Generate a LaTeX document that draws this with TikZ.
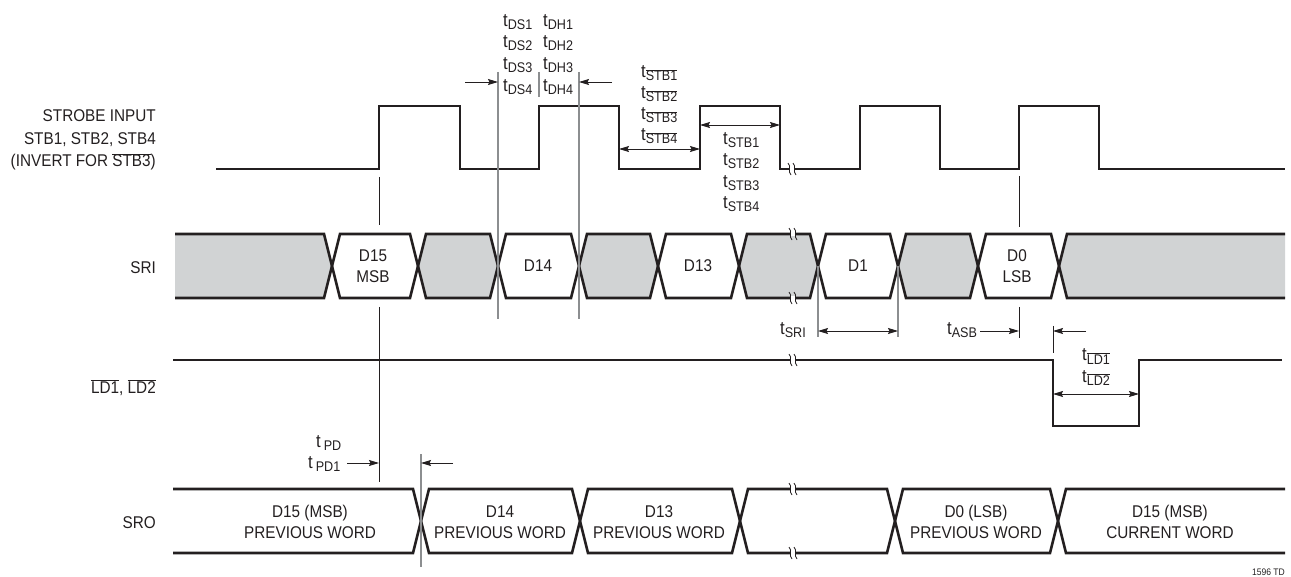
\documentclass[tikz,border=0pt]{standalone}
\usepackage{fontspec}
\setmainfont[FakeStretch=0.9]{Liberation Sans}
\usetikzlibrary{arrows.meta, positioning}
\definecolor{ink}{HTML}{231F20}
\definecolor{busgray}{HTML}{D1D3D4}
\definecolor{refgray}{HTML}{8C8E90}
\newcommand{\tsub}[1]{{\fontsize{18.5}{21}\selectfont t}\raisebox{-3pt}{\fontsize{14}{15}\selectfont #1}}
\newcommand{\ovl}[1]{$\overline{\hbox{#1}}$}

\begin{document}
\begin{tikzpicture}[x=1pt, y=-1pt, font=\fontsize{17}{21}\selectfont, text=ink,
    wave/.style = {draw=ink, line width=2.6pt},
    refline/.style = {draw=ink, line width=0.9pt},
    gline/.style = {draw=refgray, line width=1.1pt},
    dim/.style = {draw=ink, line width=0.9pt, -{Stealth[length=10pt,width=6pt,inset=1.5pt]}},
    ddim/.style = {draw=ink, line width=0.9pt, {Stealth[length=10pt,width=6pt,inset=1.5pt]}-{Stealth[length=10pt,width=6pt,inset=1.5pt]}},
    lbl/.style = {anchor=base east, inner sep=0pt},
    tl/.style = {anchor=base west, inner sep=0pt},
    busl/.style = {align=center, inner sep=0pt},
    breakmark/.pic = {
      \fill[white] (-3,-1.6) rectangle (3,1.6);
      \foreach \d in {-2.5,2.5}
        \draw[ink, line width=0.8pt] (\d-1.5,-6) .. controls (\d+2.5,-2) and (\d-2.5,2) .. (\d+1.5,6);
    }]
\useasboundingbox (0,0) rectangle (1291,577);

% signal names
\node[lbl] (strobe1) at (156,122) {STROBE INPUT};
\node[lbl] (strobe2) at (156,145) {STB1, STB2, STB4};
\node[lbl] (strobe3) at (156,167) {(INVERT FOR \ovl{STB3})};
\node[lbl] (sri) at (156,274) {SRI};
\node[lbl] (ld) at (156,393) {\ovl{LD1}, \ovl{LD2}};
\node[lbl] (sro) at (156,528) {SRO};

% strobe
\draw[wave] (216,169) \foreach \r/\f in {379/460, 539/619, 700/780, 860/940, 1019/1099}
  { -- (\r,169) -- (\r,106) -- (\f,106) -- (\f,169) } -- (1285,169);
\pic at (792,169) {breakmark};

% SRI bus
\fill[busgray] (175,234) -- (324,234) -- (332,266) -- (324,298) -- (175,298) -- cycle;
\fill[busgray] (1285,234) -- (1067,234) -- (1059,266) -- (1067,298) -- (1285,298) -- cycle;
\foreach \a/\b in {418/498, 579/658, 739/818, 898/978}
  \fill[busgray] (\a,266) -- (\a+8,234) -- (\b-8,234) -- (\b,266) -- (\b-8,298) -- (\a+8,298) -- cycle;
\draw[wave] (175,234) -- (324,234) -- (332,266) -- (324,298) -- (175,298);
\draw[wave] (1285,234) -- (1067,234) -- (1059,266) -- (1067,298) -- (1285,298);
\foreach \a/\b in {332/418, 418/498, 498/579, 579/658, 658/739, 739/818, 818/898, 898/978, 978/1059}
  \draw[wave] (\a,266) -- (\a+8,234) -- (\b-8,234) -- (\b,266) -- (\b-8,298) -- (\a+8,298) -- cycle;
\pic at (793,234) {breakmark};
\pic at (793,298) {breakmark};

\node[busl] (d15) at (373,266) {D15\\MSB};
\node[busl] (d14) at (538,266) {D14};
\node[busl] (d13) at (698,266) {D13};
\node[busl] (d1) at (858,266) {D1};
\node[busl] (d0) at (1017,266) {D0\\LSB};

% LD
\draw[wave] (173,360) -- (1053,360) -- (1053,426) -- (1139,426) -- (1139,360) -- (1282,360);
\pic at (793,360) {breakmark};

% SRO bus
\draw[wave] (173,489) -- (413,489) -- (421,521) -- (413,553) -- (173,553);
\draw[wave] (1285,489) -- (1066,489) -- (1058,521) -- (1066,553) -- (1285,553);
\foreach \a/\b in {421/580, 580/740, 740/895, 895/1058}
  \draw[wave] (\a,521) -- (\a+8,489) -- (\b-8,489) -- (\b,521) -- (\b-8,553) -- (\a+8,553) -- cycle;
\pic at (793,489) {breakmark};
\pic at (793,553) {breakmark};

\node[busl] (o15) at (310,522) {D15 (MSB)\\PREVIOUS WORD};
\node[busl] (o14) at (500,522) {D14\\PREVIOUS WORD};
\node[busl] (o13) at (659,522) {D13\\PREVIOUS WORD};
\node[busl] (o0) at (976,522) {D0 (LSB)\\PREVIOUS WORD};
\node[busl] (onew) at (1170,522) {D15 (MSB)\\CURRENT WORD};

% reference lines
\draw[refline] (379,177) -- (379,225) (379,307) -- (379,482);
\draw[refline] (1019,176) -- (1019,227) (1019,307) -- (1019,338);
\draw[refline] (1053,326) -- (1053,353);
\draw[gline] (498,72) -- (498,319) (579,72) -- (579,319) (539,72) -- (539,97);
\draw[gline] (818,266) -- (818,337) (898,266) -- (898,337);
\draw[gline] (421,454) -- (421,567);

% timing arrows
\draw[dim] (465,82) -- (498,82);
\draw[dim] (612,82) -- (579,82);
\draw[ddim] (619,149) -- (700,149);
\draw[ddim] (700,125) -- (780,125);
\draw[ddim] (818,331) -- (898,331);
\draw[dim] (980,331) -- (1019,331);
\draw[dim] (1086,331) -- (1053,331);
\draw[ddim] (1053,394) -- (1139,394);
\draw[dim] (347,463) -- (379,463);
\draw[dim] (453,463) -- (421,463);

% timing labels
\foreach \i/\yy in {1/27, 2/48, 3/70, 4/92} {
  \node[tl] (ds\i) at (503,\yy) {\tsub{DS\i}};
  \node[tl] (dh\i) at (543,\yy) {\tsub{DH\i}};
}
\foreach \i/\yy in {1/78, 2/99, 3/120, 4/141}
  \node[tl] (stbn\i) at (641,\yy) {\tsub{\ovl{STB\i}}};
\foreach \i/\yy in {1/145, 2/166, 3/188, 4/209}
  \node[tl] (stb\i) at (723,\yy) {\tsub{STB\i}};
\node[tl] (tsri) at (780,335) {\tsub{SRI}};
\node[tl] (tasb) at (947,335) {\tsub{ASB}};
\node[tl] (tld1) at (1082,361) {\tsub{\ovl{LD1}}};
\node[tl] (tld2) at (1082,382) {\tsub{\ovl{LD2}}};
\node[tl] (tpd) at (316,447) {\tsub{\hspace{3pt}PD}};
\node[tl] (tpd1) at (308,468) {\tsub{\hspace{3pt}PD1}};

\node[anchor=base east, inner sep=0pt, font=\fontsize{9.5}{11}\selectfont] (code) at (1285,575) {1596 TD};
\end{tikzpicture}
\end{document}
